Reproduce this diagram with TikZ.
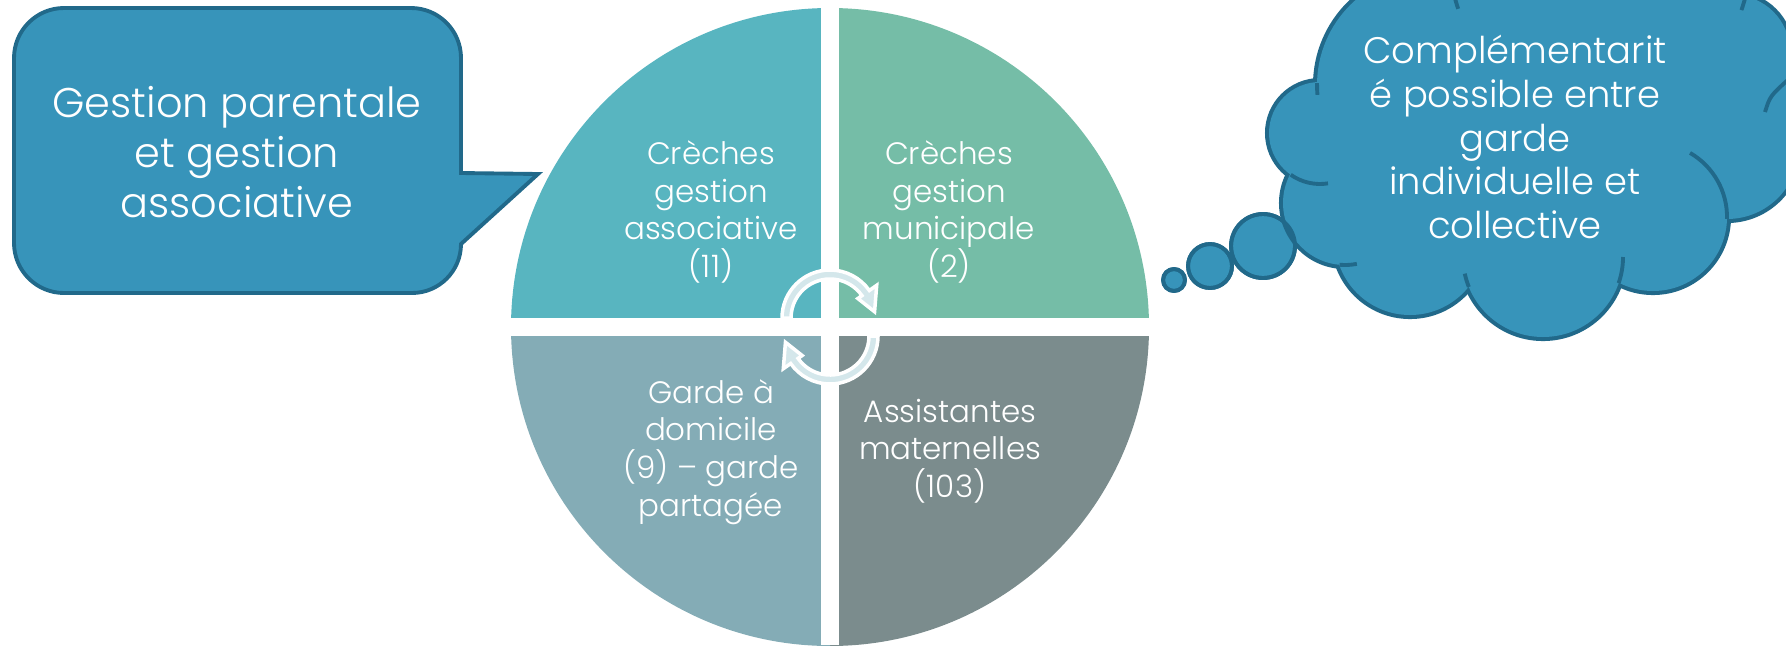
\documentclass[tikz,border=0pt]{standalone}
\usepackage{fontspec}
\setmainfont{Poppins}[UprightFont={* Light}]
\usepackage{tikz}
\usetikzlibrary{positioning}

\definecolor{calloutfill}{HTML}{3794BA}
\definecolor{calloutline}{HTML}{21698A}
\definecolor{quadA}{HTML}{58B5C0}
\definecolor{quadB}{HTML}{75BDA7}
\definecolor{quadC}{HTML}{84ACB6}
\definecolor{quadD}{HTML}{7B8C8D}
\definecolor{cyclefill}{HTML}{D4E7EB}

\tikzset{
    quadtext/.style={text=white,align=center,inner sep=0pt,font=\fontsize{8.8}{10.7}\selectfont},
    boxtext/.style={text=white,align=center,inner sep=0pt,font=\fontsize{11.8}{14.2}\selectfont},
    cloudtext/.style={text=white,align=center,inner sep=0pt,font=\fontsize{10.5}{12.4}\selectfont},
    calloutshape/.style={fill=calloutfill,draw=calloutline,line width=1.1pt},
    cyclearrow/.style={fill=cyclefill,draw=white,line width=1pt}
}

\newcommand\cloudlobes{1430/85/113,1320/133/51,1345/203/62,1410/240/75,1543/257/80,1653/217/74,1727/147/72,1845/125/80,1733/52/57,1600/-40/150}

\begin{document}
\begin{tikzpicture}[x=0.01cm,y=-0.01cm]
            \useasboundingbox (0,0) rectangle (1786,645);
            \clip (0,0) rectangle (1786,645);

            \foreach \col/\a in {quadA/180,quadB/270,quadD/0,quadC/90} {
                \fill[\col] (830,327) -- ++(\a:319) arc[start angle=\a,delta angle=90,radius=319] -- cycle;
            }
            \fill[white] (821,0) rectangle (839,645);
            \fill[white] (500,318) rectangle (1160,336);

            \foreach \cy/\s/\e/\t in {318/180/325/352,336/0/145/172} {
                \filldraw[cyclearrow] ([shift={(\s:48)}]830,\cy) arc[start angle=\s,end angle=\e,radius=48]
                    -- ([shift={(\e:57)}]830,\cy) -- ([shift={(\t:45)}]830,\cy) -- ([shift={(\e:34)}]830,\cy)
                    -- ([shift={(\e:39)}]830,\cy) arc[start angle=\e,end angle=\s,radius=39] -- cycle;
            }

            \node[quadtext] (creches asso) at (711,212) {Crèches\\gestion\\associative\\(11)};
            \node[quadtext] (creches muni) at (949,212) {Crèches\\gestion\\municipale\\(2)};
            \node[quadtext] (garde) at (711,452) {Garde à\\domicile\\(9) – garde\\partagée};
            \node[quadtext] (assistantes) at (950,451) {Assistantes\\maternelles\\(103)};

            \filldraw[calloutshape] (64,8) -- (411,8) arc[start angle=-90,end angle=0,radius=50] -- (461,173)
                -- (538,174) -- (461,244) arc[start angle=0,end angle=90,radius=49] -- (64,293)
                arc[start angle=90,end angle=180,radius=50] -- (14,58) arc[start angle=180,end angle=270,radius=50] -- cycle;
            \node[boxtext] (gestion) at (237,152) {Gestion parentale\\et gestion\\associative};

            \foreach \bx/\by/\br in {1174/280/11,1210/266/22,1263/246/32}
                \filldraw[calloutshape] (\bx,\by) circle[radius=\br];
            \foreach \lx/\ly/\lr in \cloudlobes
                \draw[calloutline,line width=2.3pt] (\lx,\ly) circle[radius=\lr];
            \foreach \lx/\ly/\lr in \cloudlobes
                \fill[calloutfill] (\lx,\ly) circle[radius=\lr];
            \fill[calloutfill] (1330,100) -- (1345,240) -- (1470,280) -- (1620,270) -- (1720,210)
                -- (1790,70) -- (1740,-5) -- (1370,-5) -- cycle;
            \foreach \lx/\ly/\lr/\s/\e in {1430/85/113/181/175,1320/133/51/125/81,1345/203/62/95/79,
                1543/257/80/158/168,1543/257/80/19/0,1653/217/74/1.5/-60,1600/-40/150/161/180,1600/-40/150/19.5/0}
                \draw[calloutline,line width=1.1pt] ([shift={(\s:\lr)}]\lx,\ly) arc[start angle=\s,end angle=\e,radius=\lr];
            \draw[calloutline,line width=1.1pt] (1765,112) .. controls (1770,96) .. (1790,78);
            \foreach \bx/\by/\br in {1174/280/11,1210/266/22,1263/246/32}
                \draw[calloutline,line width=1.1pt] (\bx,\by) circle[radius=\br];
            \node[cloudtext] (complement) at (1515,137) {Complémentarit\\é possible entre\\garde\\individuelle et\\collective};
\end{tikzpicture}
\end{document}
